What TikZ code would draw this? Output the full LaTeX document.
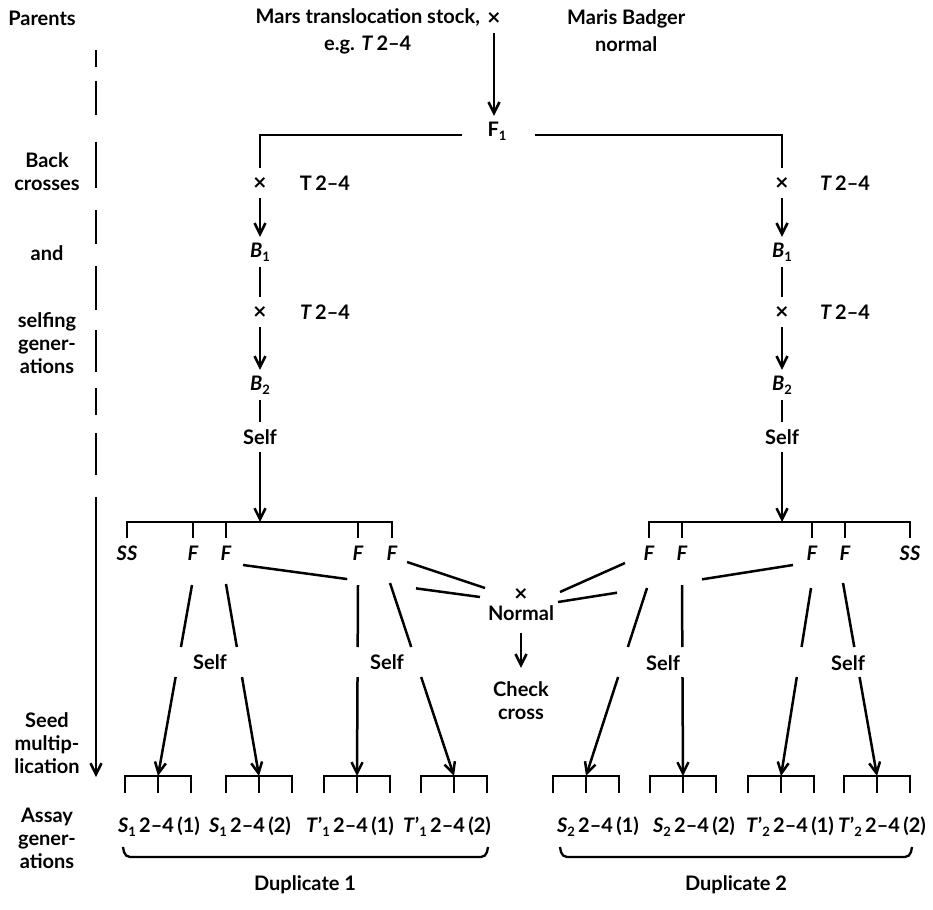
\documentclass[tikz,border=0pt]{standalone}
\usepackage{fontspec}
\setmainfont{Lato}
\newfontfamily\symf{DejaVu Sans}
\usetikzlibrary{arrows.meta,calc}
\newcommand{\sbs}[1]{\raisebox{-0.4ex}{\fontsize{13}{13}\selectfont #1}}
\newcommand{\crs}{{\symf\fontsize{18}{18}\selectfont ×}}
\begin{document}
\begin{tikzpicture}[x=1pt,y=-1pt,
  every node/.style={font=\fontsize{20}{23}\selectfont\bfseries, inner sep=0pt},
  lbl/.style={minimum height=30pt},
  fl/.style={minimum height=30pt},
  ln/.style={line width=2.5pt},
  arr/.style={line width=2.5pt,-{Straight Barb[length=11pt,width=11pt]}},
  brace/.style={line width=2.3pt,rounded corners=5pt},
]
\useasboundingbox (0,0) rectangle (933,909);

% left column labels
\node (parents) at (42,18) {Parents};
\node[align=center] (back) at (47,171.5) {Back\\crosses};
\node (and) at (47,253) {and};
\node[align=center] (selfing) at (47,343) {selfing\\gener-\\ations};
\node[align=center] (seed) at (47,743) {Seed\\multip-\\lication};
\node[align=center] (assay) at (47,838) {Assay\\gener-\\ations};

% left time line
\foreach \a/\b in {50/67,81/115,142/188,210/244,266/310,330/372,388/415,433/475}
  \draw[ln] (96,\a) -- (96,\b);
\draw[arr] (96,497) -- (96,777);

% parents
\node[align=center,anchor=east] (mars) at (480,31) {Mars translocation stock,\\[4pt]e.g. \textit{T}\,2--4};
\node[lbl] (xtop) at (494,18) {\crs};
\node[align=center,anchor=west] (badger) at (567,31) {Maris Badger\\[4pt]normal};
\node[lbl] (F1) at (497,131) {F\sbs{1}};
\draw[arr] (xtop) -- (xtop |- F1.north);
\coordinate (f1l) at (462,135);
\coordinate (f1r) at (535,135);

% left back-cross chain
\node[lbl] (xL1) at (260,183) {\crs};
\node (tL1) at (325,183) {T\,2--4};
\node[lbl] (B1L) at (260,252) {\textit{B}\sbs{1}};
\node[lbl] (xL2) at (260,312) {\crs};
\node (tL2) at (325,312) {\textit{T}\,2--4};
\node[lbl] (B2L) at (260,385) {\textit{B}\sbs{2}};
\node[lbl] (selfL) at (260,437) {Self};
\coordinate (bkL) at (260,522);
\draw[ln] (f1l) -| (xL1.north);
\draw[arr] (xL1) -- (B1L);
\draw[ln] (B1L) -- (xL2);
\draw[arr] (xL2) -- (B2L);
\draw[ln] (B2L) -- (selfL);
\draw[arr] (selfL) -- (bkL);

% right back-cross chain
\node[lbl] (xR1) at (782,183) {\crs};
\node (tR1) at (845,183) {\textit{T}\,2--4};
\node[lbl] (B1R) at (782,252) {\textit{B}\sbs{1}};
\node[lbl] (xR2) at (782,312) {\crs};
\node (tR2) at (845,312) {\textit{T}\,2--4};
\node[lbl] (B2R) at (782,385) {\textit{B}\sbs{2}};
\node[lbl] (selfR) at (782,437) {Self};
\coordinate (bkR) at (782,522);
\draw[ln] (f1r) -| (xR1.north);
\draw[arr] (xR1) -- (B1R);
\draw[ln] (B1R) -- (xR2);
\draw[arr] (xR2) -- (B2R);
\draw[ln] (B2R) -- (selfR);
\draw[arr] (selfR) -- (bkR);

% left seed bracket
\node[fl] (SSL) at (127,553) {\textit{SS}};
\node[fl] (FLa) at (193,553) {\textit{F}};
\node[fl] (FLb) at (226,553) {\textit{F}};
\node[fl] (FLc) at (358,553) {\textit{F}};
\node[fl] (FLd) at (392,553) {\textit{F}};
\draw[ln] (SSL.north) -- (SSL.north |- bkL) -- (FLd.north |- bkL) -- (FLd.north);
\foreach \n in {FLa,FLb,FLc} \draw[ln] (\n.north) -- (\n.north |- bkL);

% right seed bracket
\node[fl] (FRa) at (649,553) {\textit{F}};
\node[fl] (FRb) at (682,553) {\textit{F}};
\node[fl] (FRc) at (812,553) {\textit{F}};
\node[fl] (FRd) at (845,553) {\textit{F}};
\node[fl] (SSR) at (910,553) {\textit{SS}};
\draw[ln] (FRa.north) -- (FRa.north |- bkR) -- (SSR.north |- bkR) -- (SSR.north);
\foreach \n in {FRb,FRc,FRd} \draw[ln] (\n.north) -- (\n.north |- bkR);

% check cross
\node (xN) at (521,594) {\crs};
\node (normal) at (521,613) {Normal};
\node[align=center] (check) at (521,701) {Check\\cross};
\draw[arr,shorten <=12pt,shorten >=14pt] (normal) -- (check);

\coordinate (pb) at (243,565); \coordinate (qb) at (480,597);
\draw[ln] (pb) -- ($(pb)!0.44!(qb)$);
\draw[ln] ($(pb)!0.73!(qb)$) -- (qb);
\coordinate (pd) at (407,562); \coordinate (qd) at (485,588);
\draw[ln] (pd) -- (qd);
\coordinate (pa) at (625,563); \coordinate (qa) at (560,592);
\draw[ln] (pa) -- (qa);
\coordinate (pc) at (793,565); \coordinate (qc) at (558,602);
\draw[ln] (pc) -- ($(pc)!0.387!(qc)$);
\draw[ln] ($(pc)!0.749!(qc)$) -- (qc);

% self labels
\node (s1) at (210,662) {Self};
\node (s2) at (387,662) {Self};
\node (s3) at (663,663) {Self};
\node (s4) at (848,663) {Self};

% assay brackets
\foreach \i/\m in {1/158,2/259,3/357,4/454,5/586,6/683,7/781,8/877}{
  \coordinate (m\i) at (\m,776);
  \draw[ln] ($(m\i)+(-33,17)$) -- ($(m\i)+(-33,0)$) -- ($(m\i)+(33,0)$) -- ($(m\i)+(33,17)$);
  \draw[ln] (m\i) -- ++(0,17);
}

% descending lines F -> assay
\foreach \n/\sx/\sy/\e in {FLa/192/585/1,FLb/226/584/2,FLc/358/585/3,FLd/390/583/4,FRa/647/588/5,FRb/682/585/6,FRc/811/588/7,FRd/843/583/8}{
  \coordinate (st\e) at (\sx,\sy);
  \draw[ln] (st\e) -- ($(st\e)!{(647-\sy)/(776-\sy)}!(m\e)$);
  \draw[arr] ($(st\e)!{(677-\sy)/(776-\sy)}!(m\e)$) -- (m\e);
}

% assay labels
\node (a1) at (159,827) {\textit{S}\sbs{1}\,2--4\,(1)};
\node (a2) at (250,827) {\textit{S}\sbs{1}\,2--4\,(2)};
\node (a3) at (350,827) {\textit{T}'\sbs{1}\,2--4\,(1)};
\node (a4) at (447,827) {\textit{T}'\sbs{1}\,2--4\,(2)};
\node (a5) at (598,827) {\textit{S}\sbs{2}\,2--4\,(1)};
\node (a6) at (694,827) {\textit{S}\sbs{2}\,2--4\,(2)};
\node (a7) at (790,827) {\textit{T}'\sbs{2}\,2--4\,(1)};
\node (a8) at (882,827) {\textit{T}'\sbs{2}\,2--4\,(2)};

% braces
\draw[brace] (123,847) -- (125,857) -- (486,857) -- (488,847);
\draw[brace] (560,847) -- (562,857) -- (910,857) -- (912,847);
\node (d1) at (305,885) {Duplicate 1};
\node (d2) at (736,885) {Duplicate 2};
\end{tikzpicture}
\end{document}
